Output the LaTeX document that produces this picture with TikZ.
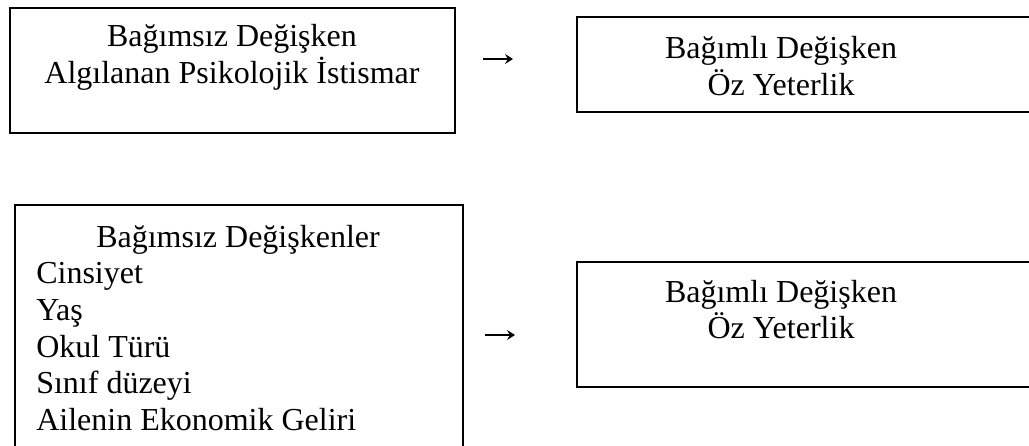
\documentclass[tikz,border=0pt]{standalone}
\usepackage{fontspec}
\setmainfont{Liberation Serif}
\usetikzlibrary{arrows.meta}
\begin{document}
\begin{tikzpicture}[x=0.75pt,y=-0.75pt,
  boxline/.style={draw=black,line width=1.5pt},
  txt/.style={inner sep=0pt,font=\fontsize{24}{27.5}\selectfont},
  glypharrow/.style={draw=black,line width=0.9pt,-{Stealth[length=6pt,width=7.5pt,inset=2.2pt]}}]
\useasboundingbox (0,0) rectangle (1029,446);
\clip (0,0) rectangle (1029,446);
% boxes
\draw[boxline] (10,8) rectangle (455,133);
\draw[boxline] (577,17) rectangle (1045,112);
\draw[boxline] (15,205) rectangle (463,470);
\draw[boxline] (577,262) rectangle (1045,387);
% box 1 text
\node[txt,anchor=base] (t1a) at (232,46) {Bağımsız Değişken};
\node[txt,anchor=base] (t1b) at (232,83) {Algılanan Psikolojik İstismar};
% arrow 1
\coordinate (a1s) at (483,59);
\coordinate (a1e) at (513,59);
\draw[glypharrow] (a1s) -- (a1e);
% box 2 text
\node[txt,anchor=base] (t2a) at (781,58) {Bağımlı Değişken};
\node[txt,anchor=base] (t2b) at (781,95) {Öz Yeterlik};
% box 3 text
\node[txt,anchor=base] (t3a) at (238,247) {Bağımsız Değişkenler};
\node[txt,anchor=base west] (t3b) at (36,283) {Cinsiyet};
\node[txt,anchor=base west] (t3c) at (36,320) {Yaş};
\node[txt,anchor=base west] (t3d) at (36,357) {Okul Türü};
\node[txt,anchor=base west] (t3e) at (36,393) {Sınıf düzeyi};
\node[txt,anchor=base west] (t3f) at (36,430) {Ailenin Ekonomik Geliri};
% arrow 2
\coordinate (a2s) at (485,335);
\coordinate (a2e) at (515,335);
\draw[glypharrow] (a2s) -- (a2e);
% box 4 text
\node[txt,anchor=base] (t4a) at (781,302) {Bağımlı Değişken};
\node[txt,anchor=base] (t4b) at (781,338) {Öz Yeterlik};
\end{tikzpicture}
\end{document}
